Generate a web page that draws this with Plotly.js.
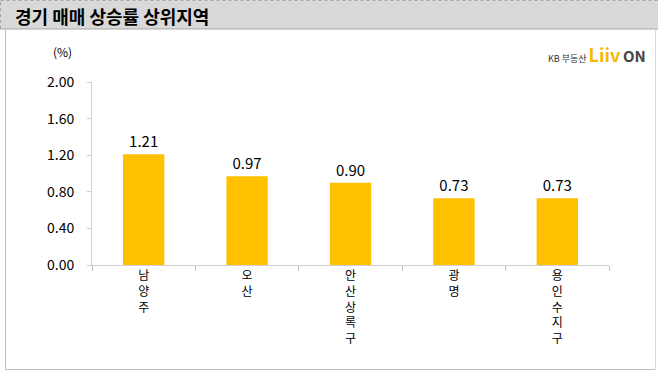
<!DOCTYPE html>
<html>
<head>
<meta charset="utf-8">
<script src="https://cdn.plot.ly/plotly-3.0.1.min.js"></script>
<style>html,body{margin:0;padding:0;background:#fff;}#chart{width:658px;height:372px;}</style>
</head>
<body>
<div id="chart"></div>
<script>
const categories = ["남양주", "오산", "안산 상록구", "광명", "용인 수지구"];
const tickLabels = ["남<br>양<br>주", "오<br>산", "안<br>산<br>상<br>록<br>구", "광<br>명", "용<br>인<br>수<br>지<br>구"];
const values = [1.21, 0.97, 0.90, 0.73, 0.73];
const yTicks = [0, 0.4, 0.8, 1.2, 1.6, 2.0];

const W = 658, H = 372;
const M = {l: 92, r: 49, t: 82, b: 107};
const pw = W - M.l - M.r, ph = H - M.t - M.b;
const px = x => (x - M.l) / pw;
const py = y => (H - M.b - y) / ph;

const font = "'Noto Sans CJK KR', 'Noto Sans', sans-serif";

const trace = {
  type: 'bar',
  x: categories,
  y: values,
  marker: {color: '#FFC000'},
  width: 0.4,
  text: values.map(v => v.toFixed(2)),
  textposition: 'outside',
  textfont: {family: font, size: 15, color: '#000'},
  cliponaxis: false,
  hoverinfo: 'none'
};

const layout = {
  width: W, height: H,
  margin: M,
  paper_bgcolor: '#fff',
  plot_bgcolor: '#fff',
  showlegend: false,
  font: {family: font, color: '#000'},
  xaxis: {
    type: 'category',
    tickmode: 'array',
    tickvals: categories,
    ticktext: tickLabels,
    tickson: 'boundaries',
    ticks: 'outside',
    ticklen: 5,
    tickcolor: '#bfbfbf',
    showline: true,
    linecolor: '#d0d0d0',
    linewidth: 1,
    showgrid: false,
    tickangle: 0,
    tickfont: {family: font, size: 12, color: '#000'},
    fixedrange: true
  },
  yaxis: {
    range: [0, 2],
    tickmode: 'array',
    tickvals: yTicks,
    ticktext: yTicks.map(v => v.toFixed(2)),
    ticks: 'outside',
    ticklen: 4,
    tickcolor: '#d0d0d0',
    showline: true,
    linecolor: '#d0d0d0',
    showgrid: false,
    zeroline: false,
    ticklabelstandoff: 10,
    tickfont: {family: font, size: 14, color: '#000'},
    fixedrange: true
  },
  shapes: [
    {type: 'rect', xref: 'paper', yref: 'paper', x0: px(0), x1: px(658), y0: py(29), y1: py(0),
     fillcolor: '#d9d9d9', line: {width: 0}, layer: 'below'},
    {type: 'line', xref: 'paper', yref: 'paper', x0: px(0), x1: px(658), y0: py(29), y1: py(29),
     line: {color: '#a6a6a6', width: 1}},
    {type: 'line', xref: 'paper', yref: 'paper', x0: px(0.5), x1: px(658), y0: py(0.5), y1: py(0.5),
     line: {color: '#a6a6a6', width: 1, dash: 'dot'}},
    {type: 'line', xref: 'paper', yref: 'paper', x0: px(0.5), x1: px(0.5), y0: py(29), y1: py(0),
     line: {color: '#a6a6a6', width: 1, dash: 'dot'}},
    {type: 'line', xref: 'paper', yref: 'paper', x0: px(5.5), x1: px(5.5), y0: py(369.5), y1: py(29),
     line: {color: '#bfbfbf', width: 1}},
    {type: 'line', xref: 'paper', yref: 'paper', x0: px(5.5), x1: px(655.5), y0: py(369.5), y1: py(369.5),
     line: {color: '#bfbfbf', width: 1}},
    {type: 'line', xref: 'paper', yref: 'paper', x0: px(655.5), x1: px(655.5), y0: py(369.5), y1: py(29),
     line: {color: '#d9d9d9', width: 1}}
  ],
  annotations: [
    {xref: 'paper', yref: 'paper', x: px(13), y: py(16), xanchor: 'left', yanchor: 'middle',
     text: '<b>경기 매매 상승률 상위지역</b>', showarrow: false,
     font: {family: font, size: 18, color: '#000'}},
    {xref: 'paper', yref: 'paper', x: px(62), y: py(51), xanchor: 'center', yanchor: 'middle',
     text: '(%)', showarrow: false, font: {family: font, size: 12, color: '#000'}},
    {xref: 'paper', yref: 'paper', x: px(648), y: py(54), xanchor: 'right', yanchor: 'middle',
     text: '<span style="font-size:9px;color:#333">KB 부동산 </span><b><span style="color:#F5B800;font-size:18px">Liiv</span> <span style="color:#444;font-size:15px">ON</span></b>',
     showarrow: false, font: {family: font, size: 12, color: '#333'}}
  ]
};

Plotly.newPlot('chart', [trace], layout, {displayModeBar: false, staticPlot: true});
</script>
</body>
</html>
